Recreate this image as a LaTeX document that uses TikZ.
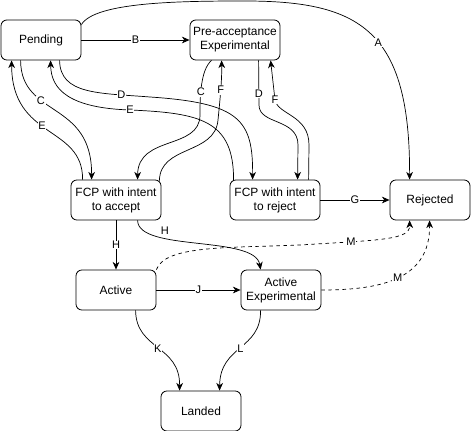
\documentclass[tikz,border=0pt]{standalone}
\usepackage{fontspec}
\setmainfont{Liberation Sans}
\usepackage{tikz}
\usetikzlibrary{arrows.meta, positioning, calc}

\begin{document}
\begin{tikzpicture}[x=0.03cm, y=-0.03cm,
  % one pixel of the sketch is one unit, y running downwards
  state/.style={draw, rounded corners=5pt, minimum width=2.4cm, minimum height=1.2cm,
                inner sep=2pt, align=center, line width=0.7pt,
                font=\fontsize{10.2pt}{12pt}\selectfont},
  wide/.style={state, minimum width=2.7cm},
  arr/.style={-{Stealth[length=2.3mm, width=2mm, inset=0.7mm]}, line width=0.6pt},
  darr/.style={arr, dashed},
  lbl/.style={fill=white, inner sep=0.6pt, font=\fontsize{9.4pt}{11pt}\selectfont}
]
\useasboundingbox (0,0) rectangle (471,431);

\node[state] (pend)   at (41, 40)  {Pending};
\node[wide]  (preacc) at (235, 40) {Pre-acceptance\\Experimental};
\node[wide]  (fcpacc) at (116, 200) {FCP with intent\\to accept};
\node[wide]  (fcprej) at (275, 200) {FCP with intent\\to reject};
\node[state] (rej)    at (430, 200) {Rejected};
\node[state] (act)    at (116, 290) {Active};
\node[state] (actexp) at (281, 290) {Active\\Experimental};
\node[state] (land)   at (201, 411) {Landed};

% top row
\draw[arr] ($(pend.north east)+(0,5)$) .. controls (95,2) and (180,1) .. (245,1)
  .. controls (360,1) and (410,30) .. node[lbl, pos=0.55] {A} ($(rej.north west)+(20,0)$);
\draw[arr] (pend) -- node[lbl] {B} (preacc);

% between Pending and the two FCP states
\draw[arr] ($(pend.south west)+(20,0)$) .. controls (21,118) and (92,100)
  .. node[lbl, pos=0.35] {C} ($(fcpacc.north west)+(21,0)$);
\draw[arr] ($(fcpacc.north west)+(12,0)$) .. controls (83,125) and (12,140)
  .. node[lbl, pos=0.55] {E} ($(pend.south west)+(11,0)$);
\draw[arr] ($(pend.south west)+(59,0)$) .. controls (60,95) and (100,93) .. node[lbl, pos=0.8] {D} (150,97)
  .. controls (240,103) and (253,120) .. ($(fcprej.north west)+(23,0)$);
\draw[arr] ($(fcprej.north west)+(4,1)$) .. controls (234,120) and (200,113) .. (130,110)
  node[lbl] {E} .. controls (70,108) and (51,90) .. ($(pend.south west)+(50,0)$);

% between Pre-acceptance and the two FCP states
\draw[arr] ($(preacc.south west)+(22,0)$) .. controls (200,70) and (200,100)
  .. node[lbl, pos=0.6] {C} (200,115) .. controls (200,150) and (138,135) .. ($(fcpacc.north west)+(67,0)$);
\draw[arr] ($(fcpacc.north east)+(-2,1)$) .. controls (160,145) and (215,155) .. (218,120)
  .. controls (220,100) and (222,80) .. node[lbl, pos=0.5] {F} ($(preacc.south west)+(32,0)$);
\draw[arr] ($(preacc.south west)+(69,0)$) -- node[lbl, pos=0.75] {D} (259,105)
  .. controls (259,125) and (298,118) .. (298,145) -- ($(fcprej.north west)+(68,0)$);
\draw[arr] ($(fcprej.north west)+(79,0)$) -- (309,145) .. controls (309,115) and (278,115) .. (275,100)
  node[lbl] {F} -- ($(preacc.south west)+(81,0)$);

% lower part
\draw[arr] (fcprej) -- node[lbl] {G} (rej);
\draw[arr] (fcpacc) -- node[lbl] {H} (act);
\draw[arr] ($(fcpacc.south west)+(67,0)$) .. controls (138,252) and (255,235)
  .. node[lbl, pos=0.31, yshift=0.25cm] {H} ($(actexp.north west)+(20,0)$);
\draw[arr] (act) -- node[lbl] {J} (actexp);
\draw[arr] ($(act.south west)+(60,0)$) .. controls (136,350) and (180,345)
  .. node[lbl] {K} ($(land.north west)+(19,0)$);
\draw[arr] ($(actexp.south west)+(20,0)$) .. controls (261,350) and (220,345)
  .. node[lbl] {L} ($(land.north west)+(59,0)$);
\draw[darr] (act.north east) .. controls (165,245) and (230,248) .. (300,245)
  .. controls (380,240) and (410,240) .. node[lbl, pos=0.25] {M} ($(rej.south west)+(20,0)$);
\draw[darr] (actexp.east) .. controls (380,290) and (430,280)
  .. node[lbl] {M} ($(rej.south west)+(40,0)$);

\end{tikzpicture}
\end{document}
